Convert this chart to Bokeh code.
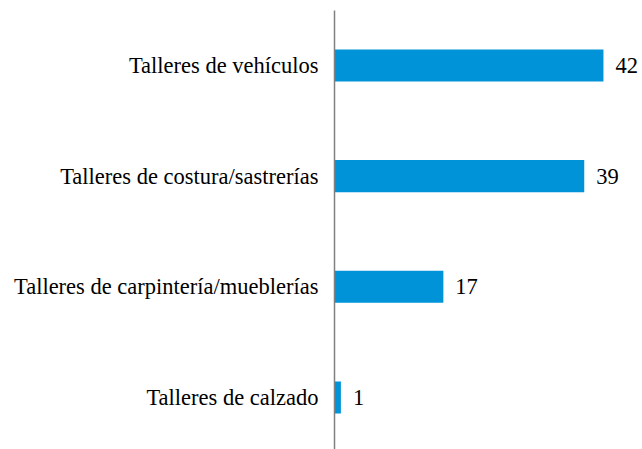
from bokeh.plotting import figure
from bokeh.models import ColumnDataSource, Range1d, FixedTicker
from bokeh.embed import file_html
from bokeh.resources import INLINE
from bokeh.core.properties import value

categories = ["Talleres de calzado", "Talleres de carpintería/mueblerías",
              "Talleres de costura/sastrerías", "Talleres de vehículos"]
values = [1, 17, 39, 42]
positions = list(range(len(categories)))

src = ColumnDataSource(dict(y=positions, v=values, lbl=[str(v) for v in values]))

FONT = "Times New Roman, Liberation Serif, serif"

p = figure(width=642, height=449, output_backend="svg", toolbar_location=None,
           x_range=Range1d(0, 48.1), y_range=Range1d(-0.47, 3.497),
           min_border_left=334, min_border_right=0, min_border_top=10, min_border_bottom=0)
p.outline_line_color = None
p.xgrid.visible = False
p.ygrid.visible = False
p.xaxis.visible = False

p.hbar(y="y", right="v", left=0, height=0.29, source=src, color="#0093D8", line_color=None)
p.text(x="v", y="y", text="lbl", source=src, x_offset=12, text_align="left",
       text_baseline="middle", text_font=value(FONT),
       text_font_size="22.5px", text_color="#000000")

ya = p.yaxis[0]
ya.ticker = FixedTicker(ticks=positions)
ya.major_label_overrides = {i: c for i, c in zip(positions, categories)}
ya.major_tick_line_color = None
ya.minor_tick_line_color = None
ya.axis_line_color = "#808080"
ya.axis_line_width = 1.5
ya.major_label_standoff = 10
ya.major_label_text_font = FONT
ya.major_label_text_font_size = "22.5px"
ya.major_label_text_color = "#000000"

open("out.html", "w").write(file_html(p, INLINE))
